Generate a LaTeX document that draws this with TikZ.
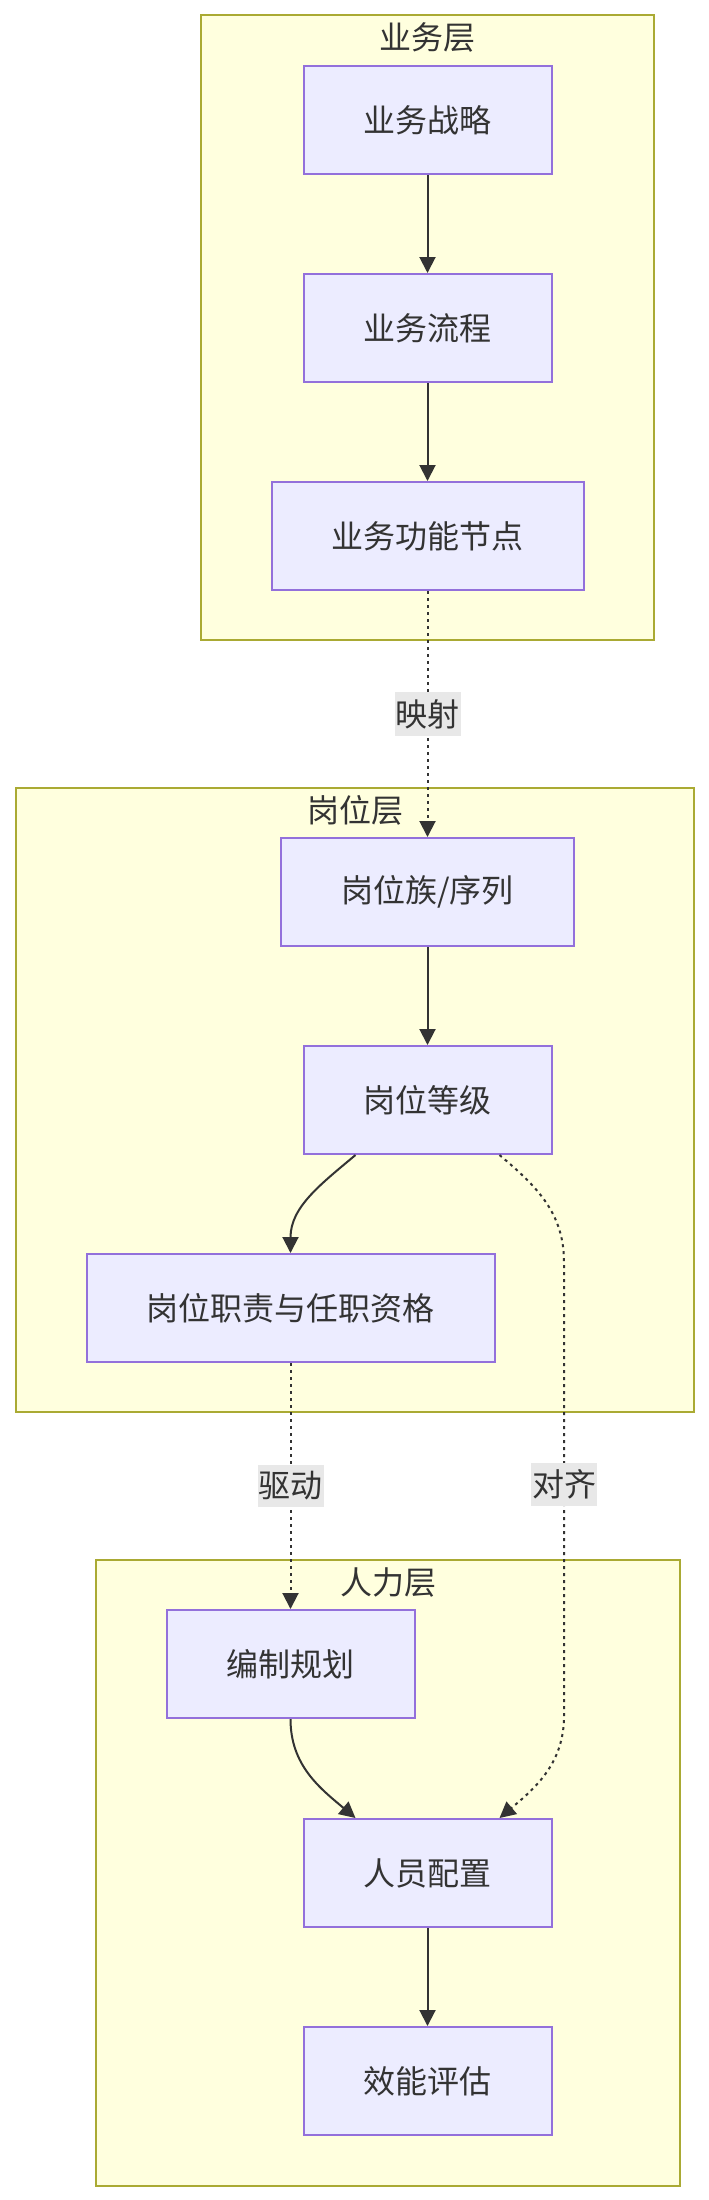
\documentclass[tikz,border=0pt]{standalone}
\usepackage{fontspec}
\setmainfont{Noto Sans CJK SC}
\usepackage{tikz}
\usetikzlibrary{arrows.meta,positioning}
\definecolor{nodeFill}{HTML}{ECECFF}
\definecolor{nodeEdge}{HTML}{9370DB}
\definecolor{layerFill}{HTML}{FFFFDE}
\definecolor{layerEdge}{HTML}{AAAA33}
\definecolor{inkGrey}{HTML}{333333}
\definecolor{labelGrey}{HTML}{E8E8E8}

\begin{document}
\begin{tikzpicture}[x=1pt, y=1pt,
        layer/.style={draw=layerEdge, line width=2pt, fill=layerFill, inner sep=0pt},
        layertitle/.style={font=\fontsize{32}{38}\selectfont, text=inkGrey, inner sep=0pt},
        box/.style={draw=nodeEdge, line width=2pt, fill=nodeFill, text=inkGrey,
                    minimum height=108pt, inner xsep=60pt, font=\fontsize{32}{38}\selectfont},
        elabel/.style={fill=labelGrey, text=inkGrey, inner xsep=1pt, inner ysep=7pt,
                       font=\fontsize{32}{38}\selectfont},
        arr/.style={-{Triangle[length=16pt,width=16pt]}, line width=2pt, draw=inkGrey},
        darr/.style={arr, dash pattern=on 3pt off 4pt}
    ]
        \useasboundingbox (0,0) rectangle (709,-2200);

        \node[layer, minimum width=453pt, minimum height=625pt] (bizlayer) at (427.5,-327.5) {};
        \node[layertitle, below=8pt of bizlayer.north] (biztitle) {业务层};
        \node[layer, minimum width=678pt, minimum height=624pt] (postlayer) at (355,-1100) {};
        \node[layertitle, below=8pt of postlayer.north] (posttitle) {岗位层};
        \node[layer, minimum width=584pt, minimum height=626pt] (hrlayer) at (388,-1873) {};
        \node[layertitle, below=8pt of hrlayer.north] (hrtitle) {人力层};

        \node[box] (s1) at (427.5,-120) {业务战略};
        \node[box, below=98pt of s1] (s2) {业务流程};
        \node[box, below=98pt of s2] (s3) {业务功能节点};

        \node[box] (p1) at (427.5,-892) {岗位族/序列};
        \node[box, below=98pt of p1] (p2) {岗位等级};
        \node[box] (p3) at (290.5,-1308) {岗位职责与任职资格};

        \node[box] (h1) at (290.5,-1664) {编制规划};
        \node[box] (h2) at (427.5,-1873) {人员配置};
        \node[box, below=98pt of h2] (h3) {效能评估};

        \coordinate (aligntop) at (564,-1262);
        \coordinate (alignbot) at (564,-1716);

        \draw[arr] (s1) -- (s2);
        \draw[arr] (s2) -- (s3);
        \draw[darr] (s3) -- node[elabel] {映射} (p1);
        \draw[arr] (p1) -- (p2);
        \draw[arr] ([xshift=-72pt]p2.south) to[out=-140, in=90] (p3.north);
        \draw[darr] ([xshift=72pt]p2.south) to[out=-40, in=90] (aligntop)
            -- node[elabel, pos=0.49] {对齐} (alignbot) to[out=-90, in=40] ([xshift=72pt]h2.north);
        \draw[darr] (p3) -- node[elabel] {驱动} (h1);
        \draw[arr] (h1.south) to[out=-90, in=140] ([xshift=-72pt]h2.north);
        \draw[arr] (h2) -- (h3);
    \end{tikzpicture}
\end{document}
